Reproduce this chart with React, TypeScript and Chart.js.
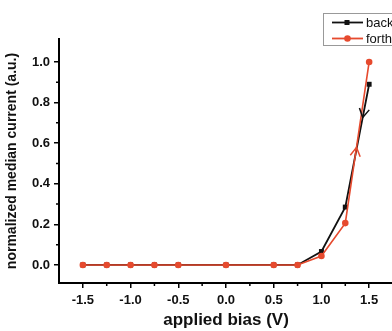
import React, { useEffect, useRef } from "react";
import { Chart, registerables } from "chart.js";

Chart.register(...registerables);

const biasV = [-1.5, -1.25, -1.0, -0.75, -0.5, 0, 0.5, 0.75, 1.0, 1.25, 1.5];
const backCurrent = [0, 0, 0, 0, 0, 0, 0, 0, 0.066, 0.285, 0.89];
const forthCurrent = [0, 0, 0, 0, 0, 0, 0, 0, 0.044, 0.206, 1.0];
const xMajorTicks = [-1.5, -1.0, -0.5, 0, 0.5, 1.0, 1.5];
const xMinorTicks = [-1.25, -0.75, -0.25, 0.25, 0.75, 1.25];
const yMajorTicks = [0, 0.2, 0.4, 0.6, 0.8, 1.0];
const yMinorTicks = [0.1, 0.3, 0.5, 0.7, 0.9];
const seriesNames = ["back", "forth"];

const BLACK = "#111111";
const RED = "#e64a2e";
const FONT = "'Liberation Sans', Arial, sans-serif";

const minorTicksPlugin = {
  id: "minorTicks",
  afterDraw(chart: any) {
    const ctx = chart.ctx;
    const xs = chart.scales.x;
    const ys = chart.scales.y;
    ctx.save();
    ctx.strokeStyle = "#000";
    ctx.lineWidth = 1.5;
    ctx.beginPath();
    xMinorTicks.forEach((v) => {
      const px = xs.getPixelForValue(v);
      ctx.moveTo(px, xs.top);
      ctx.lineTo(px, xs.top + 3);
    });
    yMinorTicks.forEach((v) => {
      const py = ys.getPixelForValue(v);
      ctx.moveTo(ys.right, py);
      ctx.lineTo(ys.right - 3, py);
    });
    ctx.stroke();
    ctx.restore();
  },
};

const arrowsPlugin = {
  id: "arrows",
  afterDatasetsDraw(chart: any) {
    const ctx = chart.ctx;
    const specs = [
      { ds: 1, from: 10, to: 9, t: 0.27, color: BLACK },
      { ds: 0, from: 9, to: 10, t: 0.47, color: RED },
    ];
    ctx.save();
    specs.forEach((s) => {
      const meta = chart.getDatasetMeta(s.ds);
      const p0 = meta.data[s.from];
      const p1 = meta.data[s.to];
      const dx = p1.x - p0.x;
      const dy = p1.y - p0.y;
      const len = Math.hypot(dx, dy);
      const ux = dx / len;
      const uy = dy / len;
      const tx = p0.x + dx * s.t;
      const ty = p0.y + dy * s.t;
      const L = 10;
      const a = Math.PI / 6;
      ctx.strokeStyle = s.color;
      ctx.lineWidth = 1.5;
      ctx.beginPath();
      [a, -a].forEach((ang) => {
        const rx = ux * Math.cos(ang) - uy * Math.sin(ang);
        const ry = ux * Math.sin(ang) + uy * Math.cos(ang);
        ctx.moveTo(tx, ty);
        ctx.lineTo(tx - rx * L, ty - ry * L);
      });
      ctx.stroke();
    });
    ctx.restore();
  },
};

const legendPlugin = {
  id: "boxLegend",
  afterDraw(chart: any) {
    const ctx = chart.ctx;
    ctx.save();
    ctx.fillStyle = "#fff";
    ctx.fillRect(323.5, 13.5, 110, 32);
    ctx.strokeStyle = "#999";
    ctx.lineWidth = 1;
    ctx.strokeRect(323.5, 13.5, 110, 32);
    const rows = [
      { y: 22.5, color: BLACK, shape: "rect", label: seriesNames[0] },
      { y: 38.5, color: RED, shape: "circle", label: seriesNames[1] },
    ];
    rows.forEach((r) => {
      ctx.strokeStyle = r.color;
      ctx.lineWidth = 1.8;
      ctx.beginPath();
      ctx.moveTo(332, r.y);
      ctx.lineTo(363, r.y);
      ctx.stroke();
      ctx.fillStyle = r.color;
      if (r.shape === "rect") {
        ctx.fillRect(344.5, r.y - 2.5, 5, 5);
      } else {
        ctx.beginPath();
        ctx.arc(347.5, r.y, 3.3, 0, Math.PI * 2);
        ctx.fill();
      }
      ctx.fillStyle = "#111";
      ctx.font = `13px ${FONT}`;
      ctx.textBaseline = "middle";
      ctx.textAlign = "left";
      ctx.fillText(r.label, 366, r.y + 0.5);
    });
    ctx.restore();
  },
};

export default function App() {
  const ref = useRef<HTMLCanvasElement | null>(null);

  useEffect(() => {
    if (!ref.current) return;
    const chart = new Chart(ref.current, {
      type: "line",
      data: {
        labels: biasV,
        datasets: [
          {
            label: seriesNames[1],
            data: biasV.map((x, i) => ({ x, y: forthCurrent[i] })),
            borderColor: RED,
            backgroundColor: RED,
            borderWidth: 1.6,
            pointStyle: "circle",
            pointRadius: 3.3,
            pointBorderWidth: 0,
            tension: 0,
          },
          {
            label: seriesNames[0],
            data: biasV.map((x, i) => ({ x, y: backCurrent[i] })),
            borderColor: BLACK,
            backgroundColor: BLACK,
            borderWidth: 1.8,
            pointStyle: "rect",
            pointRadius: 3.5,
            pointBorderWidth: 0,
            tension: 0,
          },
        ],
      },
      options: {
        animation: false,
        responsive: false,
        maintainAspectRatio: false,
        layout: { padding: { top: 39, right: 47, left: 0, bottom: 0 } },
        plugins: {
          legend: { display: false },
          tooltip: { enabled: false },
        },
        scales: {
          x: {
            type: "linear",
            min: -1.75,
            max: 1.75,
            afterBuildTicks: (s: any) => {
              s.ticks = xMajorTicks.map((v) => ({ value: v }));
            },
            afterFit: (s: any) => {
              s.height = 48;
            },
            grid: {
              display: true,
              drawOnChartArea: false,
              drawTicks: true,
              tickLength: 5,
              color: "#000",
              lineWidth: 1.5,
            },
            border: { display: true, color: "#000", width: 2 },
            ticks: {
              padding: 5,
              color: "#111",
              font: { family: FONT, size: 13, weight: "bold" },
              callback: (v: any) => Number(v).toFixed(1),
              maxRotation: 0,
            },
            title: {
              display: true,
              text: "applied bias (V)",
              color: "#111",
              font: { family: FONT, size: 17, weight: "bold" },
              padding: { top: 0, bottom: 0 },
            },
          },
          y: {
            type: "linear",
            min: -0.089,
            max: 1.113,
            afterBuildTicks: (s: any) => {
              s.ticks = yMajorTicks.map((v) => ({ value: v }));
            },
            afterFit: (s: any) => {
              s.width = 59;
            },
            grid: {
              display: true,
              drawOnChartArea: false,
              drawTicks: true,
              tickLength: 5,
              color: "#000",
              lineWidth: 1.5,
            },
            border: { display: true, color: "#000", width: 2 },
            ticks: {
              padding: 4,
              color: "#111",
              font: { family: FONT, size: 13, weight: "bold" },
              callback: (v: any) => Number(v).toFixed(1),
            },
            title: {
              display: true,
              text: "normalized median current (a.u.)",
              color: "#111",
              font: { family: FONT, size: 14, weight: "bold" },
              padding: { top: 4, bottom: 0 },
            },
          },
        },
      },
      plugins: [minorTicksPlugin, arrowsPlugin, legendPlugin],
    });
    return () => chart.destroy();
  }, []);

  return (
    <div
      style={{
        position: "fixed",
        left: 0,
        top: 0,
        width: 392,
        height: 331,
        overflow: "hidden",
        background: "#fff",
      }}
    >
      <canvas ref={ref} width={440} height={331} style={{ display: "block", width: 440, height: 331 }} />
    </div>
  );
}
